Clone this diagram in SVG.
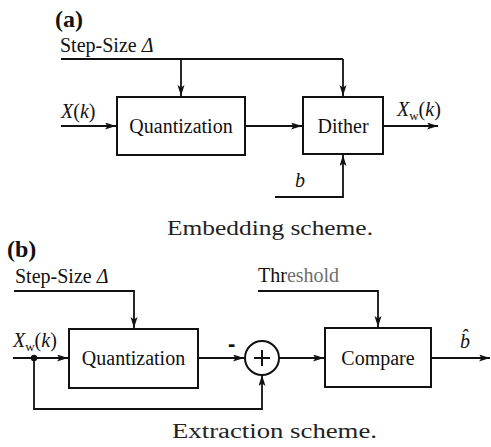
<svg xmlns="http://www.w3.org/2000/svg" width="491" height="447" viewBox="0 0 491 447">
  <defs>
    <marker id="arrow" markerUnits="userSpaceOnUse" markerWidth="12" markerHeight="8" refX="11" refY="3.5" orient="auto">
      <path d="M0,0 L11,3.5 L0,7 L2.5,3.5 z" fill="#111"/>
    </marker>
  </defs>
  <style>
    .box { fill: #fff; stroke: #111; stroke-width: 2; }
    .wire { fill: none; stroke: #111; stroke-width: 1.8; }
    .arr { marker-end: url(#arrow); }
    .lbl { font-size: 20px; fill: #111; }
    .it { font-style: italic; }
    .tag { font-size: 24px; font-weight: bold; fill: #111; }
    .cap { font-size: 20px; fill: #222; }
  </style>

  <rect width="491" height="447" fill="#fff"/>

  <g font-family="Liberation Serif, serif">
  <!-- (a) embedding -->
  <text class="tag" x="55" y="27">(a)</text>
  <text class="lbl" x="60" y="52">Step-Size <tspan class="it">Δ</tspan></text>
  <text class="lbl" x="61" y="118"><tspan class="it">X</tspan>(<tspan class="it">k</tspan>)</text>
  <text class="lbl" x="397" y="116"><tspan class="it">X</tspan><tspan font-size="13" dy="4">w</tspan><tspan dy="-4">(</tspan><tspan class="it">k</tspan>)</text>
  <text class="lbl it" x="295" y="187">b</text>

  <g id="connectors-a">
    <path class="wire" d="M61,59 H343"/>
    <path class="wire arr" d="M181,59 V96"/>
    <path class="wire arr" d="M343,59 V96"/>
    <path class="wire arr" d="M61,126 H116"/>
    <path class="wire arr" d="M245,126 H302"/>
    <path class="wire arr" d="M383,126 H438"/>
    <path class="wire arr" d="M275,197 H343 V155"/>
  </g>

  <g id="quant-a">
    <rect class="box" x="117" y="97" width="128" height="58"/>
    <text class="lbl" x="181" y="133" text-anchor="middle">Quantization</text>
  </g>
  <g id="dither">
    <rect class="box" x="303" y="97" width="80" height="57"/>
    <text class="lbl" x="343" y="133" text-anchor="middle">Dither</text>
  </g>

  <text class="cap" x="167" y="235" textLength="206" lengthAdjust="spacingAndGlyphs">Embedding scheme.</text>

  <!-- (b) extraction -->
  <text class="tag" x="7" y="257">(b)</text>
  <text class="lbl" x="15" y="283">Step-Size <tspan class="it">Δ</tspan></text>
  <text class="lbl" x="258" y="282">Thr<tspan fill="#6e6e6e">eshold</tspan></text>
  <text class="lbl" x="13" y="347"><tspan class="it">X</tspan><tspan font-size="13" dy="4">w</tspan><tspan dy="-4">(</tspan><tspan class="it">k</tspan>)</text>
  <text x="228" y="351" font-family="Liberation Sans, sans-serif" font-size="22" font-weight="bold" fill="#111">-</text>
  <text class="lbl it" x="460" y="348">b̂</text>

  <g id="connectors-b">
    <path class="wire arr" d="M14,291 H134 V328"/>
    <path class="wire arr" d="M258,291 H378 V327"/>
    <path class="wire arr" d="M13,358 H68"/>
    <path class="wire arr" d="M198,358 H244"/>
    <path class="wire arr" d="M34,358 V409 H262 V375"/>
    <path class="wire arr" d="M279,358 H324"/>
    <path class="wire arr" d="M431,358 H490"/>
    <circle cx="34" cy="358" r="3.2" fill="#111"/>
  </g>

  <g id="quant-b">
    <rect class="box" x="69" y="329" width="129" height="59"/>
    <text class="lbl" x="133.5" y="365" text-anchor="middle">Quantization</text>
  </g>
  <g id="adder">
    <circle cx="262" cy="358" r="17" fill="#fff" stroke="#111" stroke-width="2"/>
    <path d="M254,358 H270 M262,350 V366" stroke="#111" stroke-width="2" fill="none"/>
  </g>
  <g id="compare">
    <rect class="box" x="325" y="328" width="106" height="59"/>
    <text class="lbl" x="378" y="365" text-anchor="middle">Compare</text>
  </g>

  <text class="cap" x="172" y="438" textLength="205" lengthAdjust="spacingAndGlyphs">Extraction scheme.</text>
  </g>
</svg>
